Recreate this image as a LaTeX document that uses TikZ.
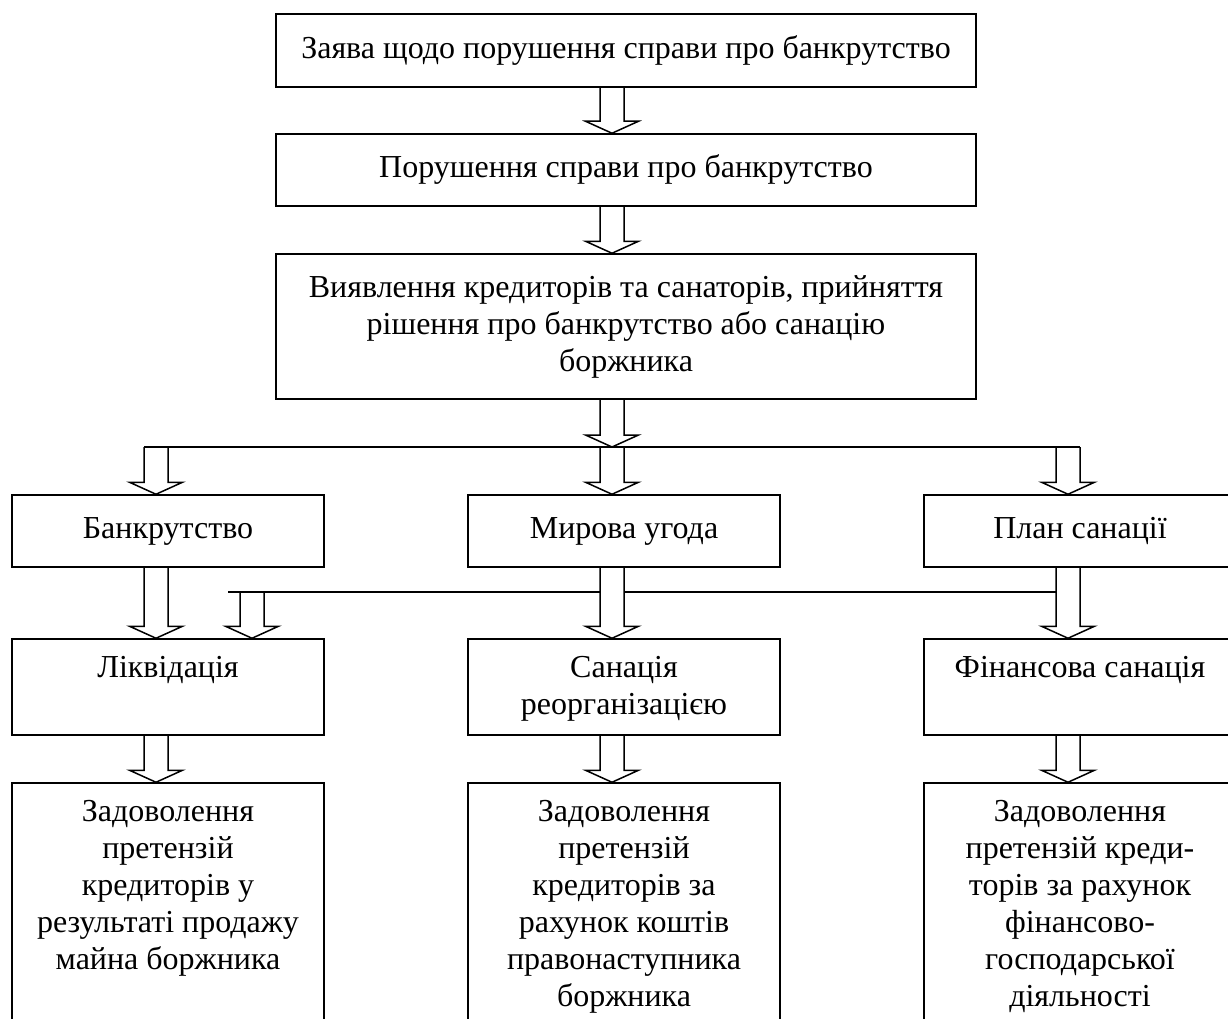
\documentclass[tikz,border=0pt]{standalone}
\usepackage{fontspec}
\setmainfont{Liberation Serif}
\usetikzlibrary{calc}
\newcommand{\toptext}[2]{\parbox[c][#1][t]{306pt}{\centering\vspace*{13pt}\strut #2}}
\newcommand{\blockarr}[2]{%
  \draw[barrow] ($(#1)+(-12,0)$) -- ($(#2)+(-12,-12)$) -- ($(#2)+(-26.5,-12)$) -- (#2)
    -- ($(#2)+(26.5,-12)$) -- ($(#2)+(12,-12)$) -- ($(#1)+(12,0)$);}
\begin{document}
\begin{tikzpicture}[x=1pt,y=-1pt,
  box/.style={draw, line width=1.5pt, inner sep=0pt, align=center,
    font=\fontsize{32}{37}\selectfont},
  topbox/.style={draw, line width=1.5pt, inner sep=0pt,
    font=\fontsize{32}{37}\selectfont},
  barrow/.style={draw, line width=1.5pt, line join=miter},
  hline/.style={draw, line width=1.5pt}]
\path[use as bounding box] (0,0) rectangle (1228,1019);
\clip (0,0) rectangle (1228,1019);

% column x positions
\coordinate (cL) at (156,0);
\coordinate (cM) at (612,0);
\coordinate (cR) at (1068,0);
\coordinate (cS) at (252,0);

% top boxes
\node[box, minimum width=700, minimum height=73] (b1) at (626,50.5)
  {Заява щодо порушення справи про банкрутство};
\node[box, minimum width=700, minimum height=72] (b2) at (626,170)
  {Порушення справи про банкрутство};
\node[box, minimum width=700, minimum height=145] (b3) at (626,326.5)
  {Виявлення кредиторів та санаторів, прийняття\\рішення про банкрутство або санацію\\боржника};

% row 1
\node[box, minimum width=312, minimum height=72] (r1a) at (168,531) {Банкрутство};
\node[box, minimum width=312, minimum height=72] (r1b) at (624,531) {Мирова угода};
\node[box, minimum width=312, minimum height=72] (r1c) at (1080,531) {План санації};

% row 2
\node[topbox, minimum width=312, minimum height=96] (r2a) at (168,687)
  {\toptext{96pt}{Ліквідація}};
\node[topbox, minimum width=312, minimum height=96] (r2b) at (624,687)
  {\toptext{96pt}{Санація\\реорганізацією}};
\node[topbox, minimum width=312, minimum height=96] (r2c) at (1080,687)
  {\toptext{96pt}{Фінансова санація}};

% row 3
\node[topbox, minimum width=312, minimum height=257] (r3a) at (168,911.5)
  {\toptext{257pt}{Задоволення\\претензій\\кредиторів у\\результаті продажу\\майна боржника}};
\node[topbox, minimum width=312, minimum height=257] (r3b) at (624,911.5)
  {\toptext{257pt}{Задоволення\\претензій\\кредиторів за\\рахунок коштів\\правонаступника\\боржника}};
\node[topbox, minimum width=312, minimum height=257] (r3c) at (1080,911.5)
  {\toptext{257pt}{Задоволення\\претензій креди-\\торів за рахунок\\фінансово-\\господарської\\діяльності}};

% junction lines
\coordinate (h1l) at (144,447);
\coordinate (h1r) at (1080,447);
\coordinate (j1) at (612,447);
\coordinate (jL) at (156,447);
\coordinate (jR) at (1068,447);
\draw[hline] (h1l) -- (h1r);

\coordinate (h2l) at (228,592);
\coordinate (h2m1) at (600,592);
\coordinate (h2m2) at (624,592);
\coordinate (h2r) at (1056,592);
\coordinate (jS) at (252,592);
\draw[hline] (h2l) -- (h2m1);
\draw[hline] (h2m2) -- (h2r);

% block arrows
\blockarr{b1.south -| cM}{b2.north -| cM}
\blockarr{b2.south -| cM}{b3.north -| cM}
\blockarr{b3.south -| cM}{j1}
\blockarr{jL}{r1a.north -| cL}
\blockarr{j1}{r1b.north -| cM}
\blockarr{jR}{r1c.north -| cR}
\blockarr{r1a.south -| cL}{r2a.north -| cL}
\blockarr{r1b.south -| cM}{r2b.north -| cM}
\blockarr{r1c.south -| cR}{r2c.north -| cR}
\blockarr{jS}{r2a.north -| cS}
\blockarr{r2a.south -| cL}{r3a.north -| cL}
\blockarr{r2b.south -| cM}{r3b.north -| cM}
\blockarr{r2c.south -| cR}{r3c.north -| cR}
\end{tikzpicture}
\end{document}
